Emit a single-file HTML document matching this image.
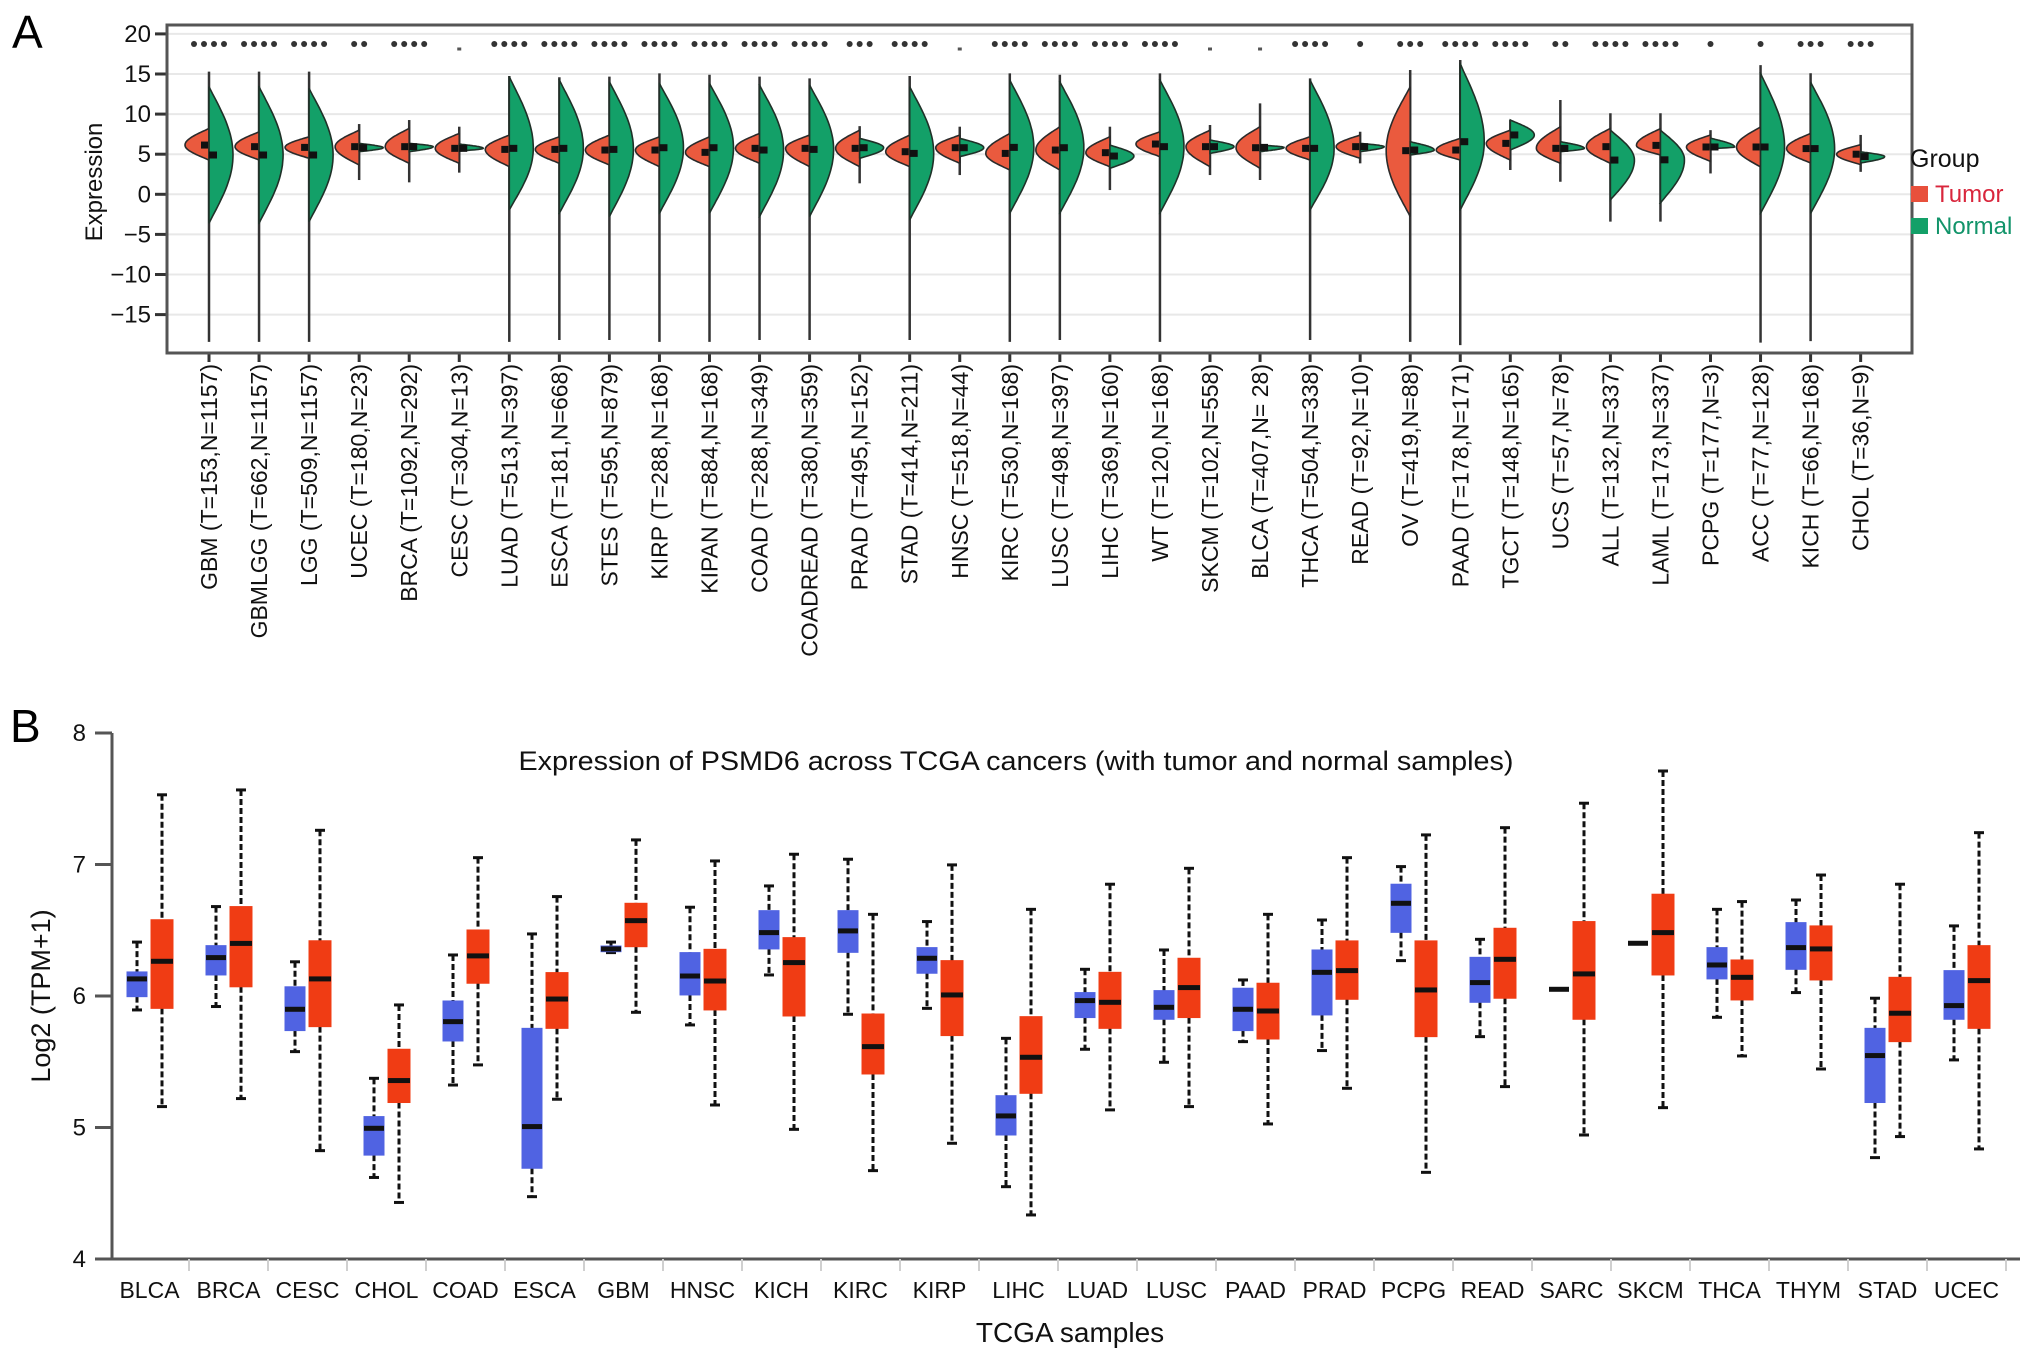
<!DOCTYPE html>
<html><head><meta charset="utf-8"><title>PSMD6 expression across TCGA cancers</title>
<style>
html,body{margin:0;padding:0;background:#fff;}
svg{display:block;font-family:"Liberation Sans",Arial,sans-serif;}
</style></head>
<body>
<svg id="fig" xmlns="http://www.w3.org/2000/svg" width="2032" height="1360" viewBox="0 0 2032 1360">
<rect x="0" y="0" width="2032" height="1360" fill="#ffffff"/>
<text x="12" y="48" font-size="46" fill="#000">A</text>
<text x="10" y="742" font-size="46" fill="#000">B</text>
<g id="panelA"></g>
<g id="panelB"></g>
</svg>
<script>
// ===== Panel A data =====
const catsA = ["GBM","GBMLGG","LGG","UCEC","BRCA","CESC","LUAD","ESCA","STES","KIRP","KIPAN","COAD","COADREAD","PRAD","STAD","HNSC","KIRC","LUSC","LIHC","WT","SKCM","BLCA","THCA","READ","OV","PAAD","TGCT","UCS","ALL","LAML","PCPG","ACC","KICH","CHOL"];
const labelsA = ["GBM (T=153,N=1157)","GBMLGG (T=662,N=1157)","LGG (T=509,N=1157)","UCEC (T=180,N=23)","BRCA (T=1092,N=292)","CESC (T=304,N=13)","LUAD (T=513,N=397)","ESCA (T=181,N=668)","STES (T=595,N=879)","KIRP (T=288,N=168)","KIPAN (T=884,N=168)","COAD (T=288,N=349)","COADREAD (T=380,N=359)","PRAD (T=495,N=152)","STAD (T=414,N=211)","HNSC (T=518,N=44)","KIRC (T=530,N=168)","LUSC (T=498,N=397)","LIHC (T=369,N=160)","WT (T=120,N=168)","SKCM (T=102,N=558)","BLCA (T=407,N= 28)","THCA (T=504,N=338)","READ (T=92,N=10)","OV (T=419,N=88)","PAAD (T=178,N=171)","TGCT (T=148,N=165)","UCS (T=57,N=78)","ALL (T=132,N=337)","LAML (T=173,N=337)","PCPG (T=177,N=3)","ACC (T=77,N=128)","KICH (T=66,N=168)","CHOL (T=36,N=9)"];
const lineMax = [15.3,15.3,15.3,8.76,9.26,8.43,14.75,14.6,14.67,15.08,14.9,14.67,14.46,8.5,14.75,8.43,15.08,14.9,8.43,15.08,8.64,11.34,14.46,7.8,15.5,16.74,9.26,11.76,10.1,10.1,8.0,16.1,15.1,7.4];
const lineMin = [-18.4,-18.4,-18.4,1.78,1.49,2.7,-18.4,-18.17,-18.17,-18.4,-18.4,-18.17,-18.17,1.37,-18.17,2.4,-18.4,-18.17,0.53,-18.4,2.4,1.78,-18.17,3.86,-18.4,-18.8,3.03,1.57,-3.41,-3.4,2.6,-18.5,-18.3,2.8];
const tumorHi = [8.22,7.8,7.18,8.0,8.22,7.6,7.39,7.18,7.39,7.18,7.18,7.6,7.39,8.0,7.39,7.39,7.6,8.43,7.18,7.8,8.0,8.43,7.18,7.39,13.42,6.98,8.0,8.43,8.22,8.2,7.4,8.4,7.6,6.2];
const tumorLo = [4.27,4.27,4.48,3.65,3.86,3.86,3.44,3.86,3.65,3.44,3.44,3.86,3.44,3.44,3.44,3.86,3.03,3.03,3.44,4.69,3.44,3.24,4.27,4.48,-2.79,4.27,4.27,3.86,3.86,4.9,4.1,3.4,3.9,3.7];
const tumorMed = [6.14,5.94,5.85,5.94,5.94,5.73,5.6,5.6,5.52,5.52,5.23,5.73,5.73,5.73,5.31,5.81,5.1,5.52,5.19,6.27,5.94,5.81,5.73,5.94,5.44,5.52,6.35,5.73,5.94,6.1,5.9,5.9,5.7,5.0];
const normalHi = [13.42,13.42,13.2,6.35,6.35,6.27,14.67,14.25,14.04,13.83,13.83,13.63,13.63,6.98,13.42,6.98,14.25,14.04,6.14,14.25,6.77,6.14,14.25,6.35,6.56,16.3,9.26,6.56,8.0,8.0,7.0,15.1,14.0,5.3];
const normalLo = [-3.62,-3.62,-3.41,5.31,5.31,5.4,-1.96,-2.37,-2.79,-2.37,-2.37,-2.79,-2.79,4.48,-3.2,4.69,-2.37,-2.37,3.24,-2.37,5.1,5.31,-1.96,5.31,4.9,-1.96,5.52,5.31,-0.71,-1.1,5.7,-2.4,-2.4,3.9];
const normalMed = [4.9,4.9,4.9,5.81,5.94,5.73,5.73,5.73,5.6,5.81,5.81,5.52,5.6,5.81,5.1,5.81,5.85,5.81,4.77,5.94,5.94,5.85,5.73,5.94,5.52,6.56,7.4,5.73,4.27,4.3,5.9,5.9,5.7,4.7];
const starsA = [4,4,4,2,4,0,4,4,4,4,4,4,4,3,4,0,4,4,4,4,0,0,4,1,3,4,4,2,4,4,1,1,3,3];
const yTicksA = [20,15,10,5,0,-5,-10,-15];

// ===== Panel B data =====
const catsB = ["BLCA","BRCA","CESC","CHOL","COAD","ESCA","GBM","HNSC","KICH","KIRC","KIRP","LIHC","LUAD","LUSC","PAAD","PRAD","PCPG","READ","SARC","SKCM","THCA","THYM","STAD","UCEC"];
const normMax = [6.41,6.68,6.26,5.374,6.312,6.472,6.41,6.675,6.837,7.04,6.566,5.678,6.203,6.35,6.122,6.578,6.984,6.431,6.051,6.401,6.659,6.73,5.983,6.533];
const normQ3  = [6.183,6.383,6.07,5.083,5.962,5.754,6.38,6.33,6.649,6.649,6.368,5.242,6.026,6.041,6.059,6.35,6.85,6.294,6.051,6.401,6.368,6.558,5.754,6.193];
const normMed = [6.13,6.292,5.899,4.994,5.805,5.007,6.358,6.152,6.482,6.495,6.287,5.088,5.965,5.914,5.899,6.18,6.705,6.102,6.051,6.401,6.236,6.368,5.547,5.927];
const normQ1  = [5.995,6.16,5.737,4.79,5.658,4.69,6.337,6.008,6.358,6.332,6.173,4.943,5.836,5.823,5.737,5.856,6.484,5.952,6.051,6.401,6.13,6.203,5.19,5.823];
const normMin = [5.894,5.92,5.577,4.62,5.323,4.474,6.33,5.78,6.16,5.861,5.906,4.55,5.595,5.496,5.653,5.585,6.269,5.691,6.051,6.401,5.838,6.026,4.771,5.514];
const tumMax = [7.53,7.567,7.26,5.932,7.052,6.756,7.187,7.027,7.078,6.621,6.997,6.659,6.85,6.971,6.621,7.052,7.225,7.28,7.466,7.711,6.718,6.92,6.85,7.242];
const tumQ3  = [6.58,6.68,6.42,5.595,6.502,6.178,6.705,6.355,6.444,5.863,6.269,5.843,6.18,6.287,6.097,6.419,6.419,6.515,6.566,6.774,6.274,6.533,6.142,6.383];
const tumMed = [6.264,6.40,6.13,5.357,6.305,5.977,6.573,6.114,6.254,5.615,6.008,5.534,5.952,6.064,5.886,6.193,6.046,6.279,6.168,6.482,6.142,6.358,5.869,6.117];
const tumQ1  = [5.906,6.07,5.767,5.19,6.097,5.754,6.375,5.894,5.848,5.407,5.699,5.26,5.754,5.836,5.673,5.975,5.691,5.983,5.823,6.16,5.97,6.122,5.653,5.754];
const tumMin = [5.159,5.22,4.824,4.43,5.476,5.215,5.876,5.171,4.986,4.672,4.88,4.335,5.134,5.159,5.027,5.298,4.659,5.311,4.943,5.151,5.544,5.445,4.931,4.837];
const yTicksB = [4,5,6,7,8];

const NS = "http://www.w3.org/2000/svg";
function mk(tag, attrs, parent){
  const e = document.createElementNS(NS, tag);
  for (const k in attrs) e.setAttribute(k, attrs[k]);
  parent.appendChild(e);
  return e;
}

// ===== Panel A drawing =====
(function(){
  const g = document.getElementById('panelA');
  const L = 167, R = 1912, T = 25, B = 353;
  const yA = v => 194.3 - v * 8.02;
  const xA = i => 209 + i * 50.05;
  const HALFW = 24;

  const bg = mk('rect', {x:L, y:T, width:R-L, height:B-T, fill:'#ffffff'}, g);
  
  

  yTicksA.forEach(v => {
    const gl = mk('line', {x1:L, x2:R, y1:yA(v), y2:yA(v), stroke:'#e8e8e8', 'stroke-width':2}, g);
    
    
    const tk = mk('line', {x1:155, x2:L, y1:yA(v), y2:yA(v), stroke:'#333', 'stroke-width':3}, g);
    
    
    const tl = mk('text', {x:151, y:yA(v)+8, 'font-size':24, 'text-anchor':'end', fill:'#111'}, g);
    tl.textContent = v < 0 ? '\u2212' + Math.abs(v) : String(v);
    
    
  });

  function halfPath(cx, sign, lo, hi, peak){
    const N = 40; let d = 'M' + cx + ',' + yA(hi).toFixed(1);
    for (let k = 0; k <= N; k++){
      const v = hi - (hi - lo) * k / N;
      let u = v >= peak ? (v - peak) / Math.max(hi - peak, 0.01) : (peak - v) / Math.max(peak - lo, 0.01);
      u = Math.min(1, Math.max(0, u));
      const w = HALFW * Math.pow(Math.cos(u * Math.PI / 2), 1.05);
      d += ' L' + (cx + sign * w).toFixed(1) + ',' + yA(v).toFixed(1);
    }
    d += ' L' + cx + ',' + yA(lo).toFixed(1) + ' Z';
    return d;
  }

  catsA.forEach((c, i) => {
    const cx = xA(i);
    const ln = mk('line', {x1:cx, x2:cx, y1:yA(lineMax[i]), y2:yA(lineMin[i]), stroke:'#333', 'stroke-width':2.5}, g);
    
    
    const tp = mk('path', {d:halfPath(cx, -1, tumorLo[i], tumorHi[i], tumorMed[i]), fill:'#ea5a3e', stroke:'#2b2b2b', 'stroke-width':1.6}, g);
    
    
    const np = mk('path', {d:halfPath(cx, 1, normalLo[i], normalHi[i], normalMed[i]), fill:'#13a068', stroke:'#1f3128', 'stroke-width':1.6}, g);
    
    
    const tm = mk('rect', {x:cx-8, y:yA(tumorMed[i])-3.5, width:7, height:7, fill:'#111'}, g);
    
    
    const nm = mk('rect', {x:cx, y:yA(normalMed[i])-3.5, width:8, height:7, fill:'#111'}, g);
    
    
    const n = starsA[i];
    if (n === 0){
      const d0 = mk('rect', {x:cx-2, y:47.5, width:4, height:3, fill:'#555'}, g);
      
      
    } else {
      for (let s = 0; s < n; s++){
        const dx = (s - (n - 1) / 2) * 10;
        const st = mk('circle', {cx:cx+dx, cy:44, r:3, fill:'#333'}, g);
        
        
      }
    }
    const xt = mk('line', {x1:cx, x2:cx, y1:B, y2:B+9, stroke:'#333', 'stroke-width':3}, g);
    
    
    const lb = mk('text', {transform:'translate(' + (cx+8) + ',364) rotate(-90)', 'font-size':23, 'text-anchor':'end', fill:'#111'}, g);
    lb.textContent = labelsA[i];
    
    
  });

  const fr = mk('rect', {x:L, y:T, width:R-L, height:B-T, fill:'none', stroke:'#555', 'stroke-width':3}, g);
  
  

  const yt = mk('text', {transform:'translate(102,182) rotate(-90)', 'font-size':24, 'text-anchor':'middle', fill:'#111'}, g);
  yt.textContent = 'Expression';
  
  

  const lg = mk('g', {}, g);
  
  
  const lt = mk('text', {x:1910, y:167, 'font-size':25, fill:'#111'}, lg);
  lt.textContent = 'Group';
  
  
  const s1 = mk('rect', {x:1911, y:186, width:17, height:16, fill:'#e8503c'}, lg);
  
  
  const t1 = mk('text', {x:1935, y:202, 'font-size':24, fill:'#d9263c'}, lg);
  t1.textContent = 'Tumor';
  
  
  const s2 = mk('rect', {x:1911, y:218, width:17, height:16, fill:'#13a068'}, lg);
  
  
  const t2 = mk('text', {x:1935, y:234, 'font-size':24, fill:'#12946a'}, lg);
  t2.textContent = 'Normal';
  
  
})();

// ===== Panel B drawing =====
(function(){
  const g = document.getElementById('panelB');
  const AX = 112, X0 = 110, CW = 79.0, BOT = 1259;
  const yB = v => BOT - (v - 4) * 131.5;
  const mid = i => X0 + (i + 0.5) * CW;

  const title = mk('text', {x:1016, y:770, 'font-size':27, 'text-anchor':'middle', fill:'#111', textLength:995, lengthAdjust:'spacingAndGlyphs'}, g);
  title.textContent = 'Expression of PSMD6 across TCGA cancers (with tumor and normal samples)';
  
  

  const ya = mk('line', {x1:AX, x2:AX, y1:yB(8), y2:BOT, stroke:'#555', 'stroke-width':3}, g);
  
  
  const xa = mk('line', {x1:AX, x2:2020, y1:BOT, y2:BOT, stroke:'#555', 'stroke-width':3}, g);
  
  

  yTicksB.forEach(v => {
    const tk = mk('line', {x1:95, x2:AX, y1:yB(v), y2:yB(v), stroke:'#555', 'stroke-width':3}, g);
    
    
    const tl = mk('text', {x:86, y:yB(v)+8, 'font-size':24, 'text-anchor':'end', fill:'#111'}, g);
    tl.textContent = String(v);
    
    
  });

  const yt = mk('text', {transform:'translate(50,996) rotate(-90)', 'font-size':27, 'text-anchor':'middle', fill:'#111'}, g);
  yt.textContent = 'Log2 (TPM+1)';
  
  

  function box(cx, w, mn, q1, md, q3, mx, fill, name){
    const bg = mk('g', {}, g);
    
    
    if (mx > q3){
      const wh = mk('line', {x1:cx, x2:cx, y1:yB(mx), y2:yB(q3), stroke:'#111', 'stroke-width':3, 'stroke-dasharray':'6 3'}, bg);
      
      
      const cp = mk('line', {x1:cx-5, x2:cx+5, y1:yB(mx), y2:yB(mx), stroke:'#111', 'stroke-width':3}, bg);
      
      
    }
    if (q1 > mn){
      const wl = mk('line', {x1:cx, x2:cx, y1:yB(q1), y2:yB(mn), stroke:'#111', 'stroke-width':3, 'stroke-dasharray':'6 3'}, bg);
      
      
      const cp2 = mk('line', {x1:cx-5, x2:cx+5, y1:yB(mn), y2:yB(mn), stroke:'#111', 'stroke-width':3}, bg);
      
      
    }
    if (q3 > q1){
      const r = mk('rect', {x:cx-w/2, y:yB(q3), width:w, height:yB(q1)-yB(q3), fill:fill, stroke:fill, 'stroke-width':1}, bg);
      
      
    }
    const m = mk('rect', {x:cx-w/2, y:yB(md)-2.5, width:w, height:5, fill:'#111'}, bg);
    
    
  }

  catsB.forEach((c, i) => {
    const m = mid(i);
    box(m - 12.5, 20, normMin[i], normQ1[i], normMed[i], normQ3[i], normMax[i], '#5063e2', 'box-normal-' + c.toLowerCase());
    box(m + 12.5, 22, tumMin[i], tumQ1[i], tumMed[i], tumQ3[i], tumMax[i], '#f03c14', 'box-tumor-' + c.toLowerCase());
    const tk = mk('line', {x1:X0 + (i+1)*CW, x2:X0 + (i+1)*CW, y1:BOT, y2:BOT+12, stroke:'#d0d0d0', 'stroke-width':2}, g);
    
    
    const lb = mk('text', {x:m, y:1298, 'font-size':23, 'text-anchor':'middle', fill:'#111'}, g);
    lb.textContent = c;
    
    
  });

  const xt = mk('text', {x:1070, y:1342, 'font-size':28, 'text-anchor':'middle', fill:'#111'}, g);
  xt.textContent = 'TCGA samples';
  
  
})();
</script>
</body></html>
